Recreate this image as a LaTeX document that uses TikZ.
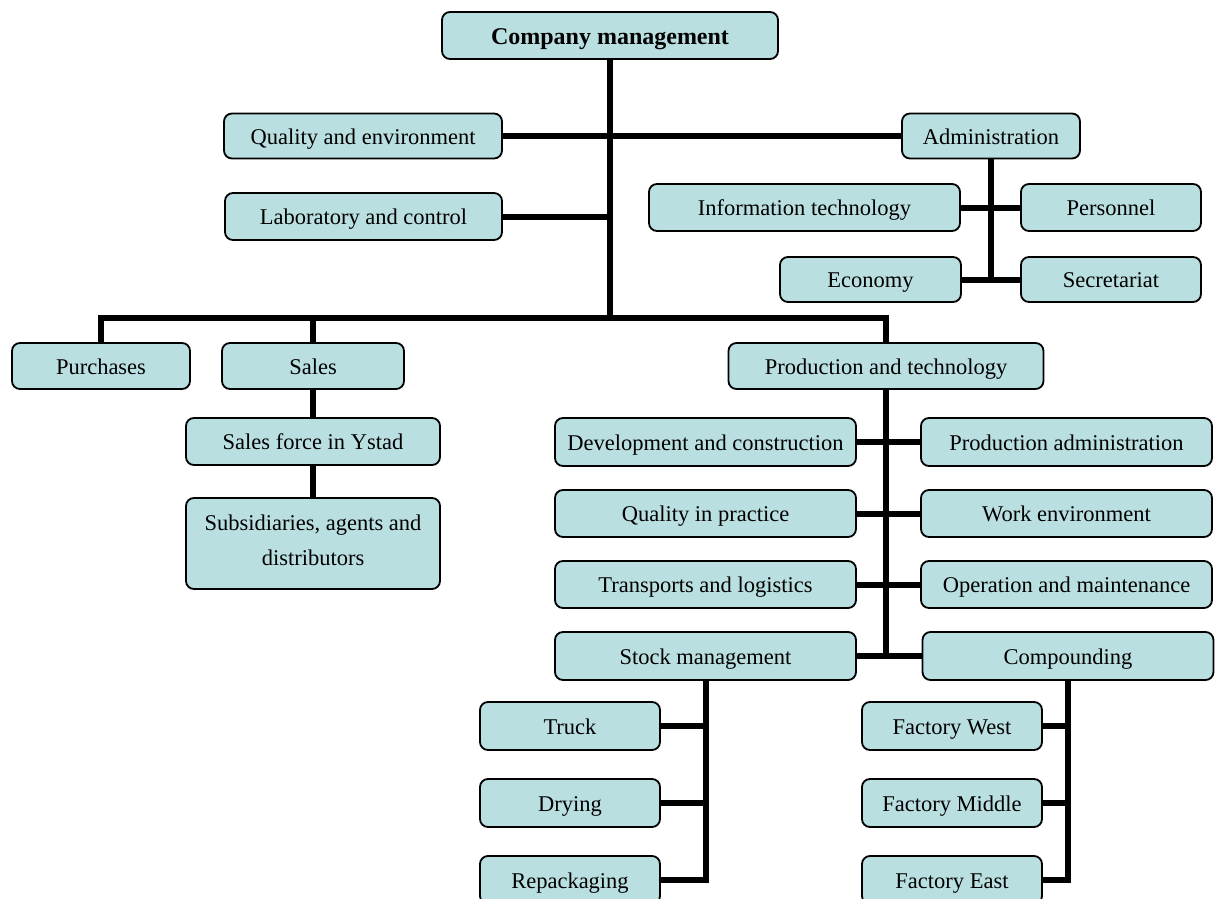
\documentclass[tikz,border=0pt]{standalone}
\usepackage{fontspec}
\setmainfont{Liberation Serif}
\definecolor{boxfill}{RGB}{186,223,225}
\begin{document}
\begin{tikzpicture}[x=1pt,y=-1pt,
  unit/.style={draw=black, line width=1.8pt, fill=boxfill, rounded corners=8pt,
    inner sep=0pt, align=center, font=\fontsize{22.5}{35}\selectfont,
    text height=19pt, text depth=3pt},
  tallunit/.style={unit, text height=, text depth=},
  link/.style={line width=6pt, black, line join=miter}]
\useasboundingbox (0,0) rectangle (1216,899);

% top level
\node[unit, minimum width=336pt, minimum height=47pt, text height=21pt, text depth=2pt,
  font=\fontsize{24}{28}\selectfont\bfseries] (cm) at (610,35.5) {Company management};

% staff units beside the main trunk
\node[unit, minimum width=278pt, minimum height=45pt] (qe)  at (363,136) {Quality and environment};
\node[unit, minimum width=277pt, minimum height=47pt] (lab) at (363.5,216.5) {Laboratory and control};
\node[unit, minimum width=178pt, minimum height=45pt] (adm) at (991,136) {Administration};

% administration branch
\node[unit, minimum width=311pt, minimum height=47pt] (it)   at (804.5,207.5) {Information technology};
\node[unit, minimum width=180pt, minimum height=47pt] (pers) at (1111,207.5) {Personnel};
\node[unit, minimum width=181pt, minimum height=45pt] (eco)  at (870.5,279.5) {Economy};
\node[unit, minimum width=180pt, minimum height=45pt] (sec)  at (1111,279.5) {Secretariat};

% departments
\node[unit, minimum width=178pt, minimum height=46pt] (pur) at (101,366) {Purchases};
\node[unit, minimum width=182pt, minimum height=46pt] (sal) at (313,366) {Sales};
\node[unit, minimum width=315pt, minimum height=46pt] (pt)  at (886,366) {Production and technology};

% sales branch
\node[unit, minimum width=254pt, minimum height=47pt] (sfy) at (313,441.5) {Sales force in Ystad};
\node[tallunit, minimum width=254pt, minimum height=91pt] (sub) at (313,543.5)
  {\rule{0pt}{21pt}Subsidiaries, agents and\\distributors\rule[-13pt]{0pt}{13pt}};

% production branch
\node[unit, minimum width=301pt, minimum height=48pt] (dev)  at (705.5,442) {Development and construction};
\node[unit, minimum width=291pt, minimum height=48pt] (pa)   at (1066.5,442) {Production administration};
\node[unit, minimum width=301pt, minimum height=47pt] (qip)  at (705.5,513.5) {Quality in practice};
\node[unit, minimum width=291pt, minimum height=47pt] (we)   at (1066.5,513.5) {Work environment};
\node[unit, minimum width=301pt, minimum height=47pt] (tl)   at (705.5,584.5) {Transports and logistics};
\node[unit, minimum width=291pt, minimum height=47pt] (om)   at (1066.5,584.5) {Operation and maintenance};
\node[unit, minimum width=301pt, minimum height=48pt] (sm)   at (705.5,656) {Stock management};
\node[unit, minimum width=291pt, minimum height=48pt] (comp) at (1068,656) {Compounding};

% stock management branch
\node[unit, minimum width=180pt, minimum height=48pt] (truck) at (570,726) {Truck};
\node[unit, minimum width=180pt, minimum height=48pt] (dry)   at (570,803) {Drying};
\node[unit, minimum width=180pt, minimum height=48pt] (rep)   at (570,880) {Repackaging};

% compounding branch
\node[unit, minimum width=180pt, minimum height=48pt] (fw) at (952,726) {Factory West};
\node[unit, minimum width=180pt, minimum height=48pt] (fm) at (952,803) {Factory Middle};
\node[unit, minimum width=180pt, minimum height=48pt] (fe) at (952,880) {Factory East};

% junction points
\coordinate (bus) at (610,318);
\coordinate (ptend) at (886,657);

% main trunk and department bus
\draw[link] (cm.south) -- (bus);
\draw[link] (qe.east) -- (adm.west);
\draw[link] (lab.east) -- (lab.east -| bus);
\draw[link] (pur.north) |- (bus) -| (pt.north);
\draw[link] (sal.north) -- (sal.north |- bus);

% administration
\draw[link] (adm.south) -- (adm.south |- eco.east);
\draw[link] (it.east) -- (pers.west);
\draw[link] (eco.east) -- (sec.west);

% sales
\draw[link] (sal.south) -- (sfy.north);
\draw[link] (sfy.south) -- (sub.north);

% production
\draw[link] (pt.south) -- (ptend);
\draw[link] (dev.east) -- (pa.west);
\draw[link] (qip.east) -- (we.west);
\draw[link] (tl.east) -- (om.west);
\draw[link] (sm.east) -- (comp.west);

% stock management
\draw[link] (sm.south) |- (rep.east);
\draw[link] (truck.east) -- (truck.east -| sm.south);
\draw[link] (dry.east) -- (dry.east -| sm.south);

% compounding
\draw[link] (comp.south) |- (fe.east);
\draw[link] (fw.east) -- (fw.east -| comp.south);
\draw[link] (fm.east) -- (fm.east -| comp.south);
\end{tikzpicture}
\end{document}
